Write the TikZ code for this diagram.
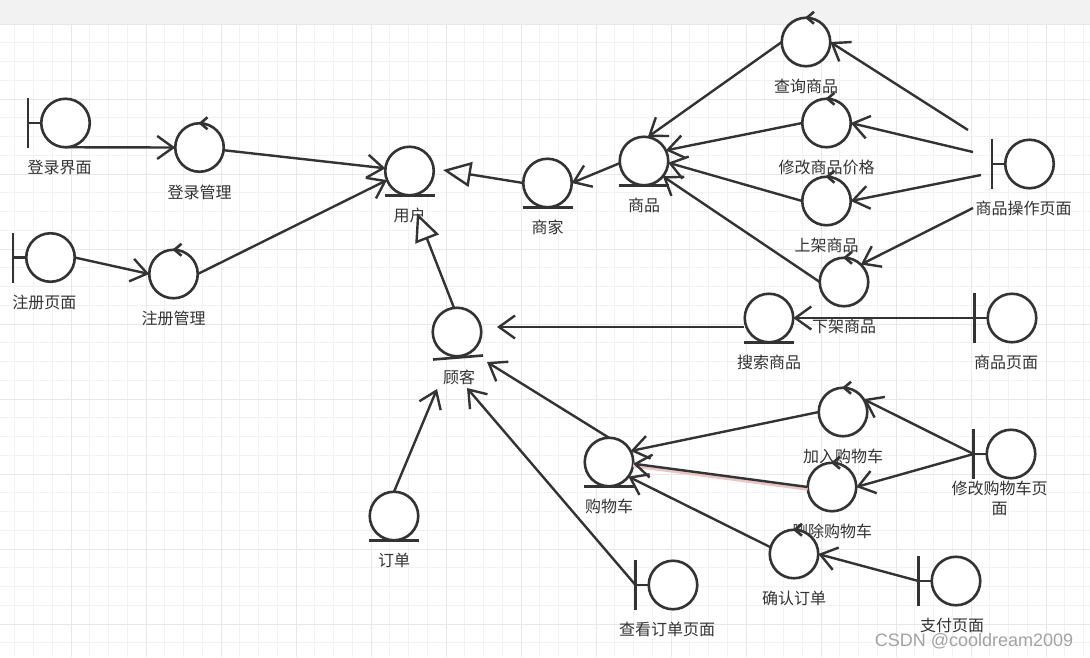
\documentclass[tikz,border=0pt]{standalone}
\usepackage{fontspec}
\setmainfont{Noto Sans CJK SC}
\newfontfamily\wmfont{Liberation Sans}
\usetikzlibrary{arrows.meta,calc}
\definecolor{ink}{HTML}{333333}
\definecolor{gridminor}{HTML}{F2F2F2}
\definecolor{gridmajor}{HTML}{E8E8E8}
\definecolor{topband}{HTML}{F2F2F2}
\definecolor{wmgray}{HTML}{A3A3A3}
\definecolor{selglow}{HTML}{E8C4C4}

\newcommand{\bndobj}[5]{% name, cx, cy, label, label dx
  \node[obj] (#1) at (#2,#3) {};
  \draw[objline] (#2-37.5,#3-25) -- (#2-37.5,#3+25);
  \draw[objline] (#2-37.5,#3) -- (#1.west);
  \coordinate (#1-bar) at (#2-37.5,#3);
  \node[lbl] (#1-l) at (#2+#5,#3+44.5) {#4};
}
\newcommand{\ctlobj}[4]{% name, cx, cy, label
  \node[obj] (#1) at (#2,#3) {};
  \draw[objline] (#2+8,#3-30.25) -- (#2+1,#3-24.25) -- (#2+8,#3-18.25);
  \node[lbl] (#1-l) at (#2,#3+44.5) {#4};
}
\newcommand{\entobj}[4]{% name, cx, cy, label
  \node[obj] (#1) at (#2,#3) {};
  \draw[objline] (#2-25,#3+24.5) -- (#2+25,#3+24.5);
  \node[lbl] (#1-l) at (#2,#3+44.5) {#4};
}

\begin{document}
\begin{tikzpicture}[x=1pt,y=-1pt,
  obj/.style={circle, draw=ink, line width=2.6pt, minimum size=48.5pt, inner sep=0pt, outer sep=0pt, fill=white},
  objline/.style={draw=ink, line width=2.6pt},
  lbl/.style={text=ink, font=\fontsize{16}{20}\selectfont, inner sep=0pt, align=center},
  conn/.style={draw=ink, line width=2.4pt, -{Straight Barb[length=16pt,width=23pt]}},
  gen/.style={draw=ink, line width=2.4pt, -{Triangle[open,length=28pt,width=25pt]}},
  gminor/.style={draw=gridminor, line width=1pt},
  gmajor/.style={draw=gridmajor, line width=1pt},
]
\useasboundingbox (0,0) rectangle (1090,657);
\fill[white] (0,0) rectangle (1090,657);
\fill[topband] (0,0) rectangle (1090,24);
% grid
\foreach \k in {1,...,58} \draw[gminor] ({-4+18.75*\k},24) -- ({-4+18.75*\k},657);
\foreach \k in {0,...,34} \draw[gminor] (0,{24+18.75*\k}) -- (1090,{24+18.75*\k});
\foreach \k in {1,...,14} \draw[gmajor] ({-4+75*\k},24) -- ({-4+75*\k},657);
\foreach \k in {0,...,8} \draw[gmajor] (0,{24+75*\k}) -- (1090,{24+75*\k});

% boundaries
\bndobj{dljm}{65.5}{123}{登录界面}{-6}
\bndobj{zcym}{50.5}{257.5}{注册页面}{-6}
\bndobj{sczy}{1029.5}{164}{商品操作页面}{-6}
\bndobj{spym}{1012}{318}{商品页面}{-6}
\bndobj{xggwc}{1011}{454}{修改购物车页\\面}{-11.5}
\bndobj{zfym}{956}{581}{支付页面}{-4}
\bndobj{ckdd}{673}{585}{查看订单页面}{-6}
% controls
\ctlobj{dlgl}{199.5}{147.5}{登录管理}
\ctlobj{zcgl}{173.5}{274}{注册管理}
\ctlobj{cxsp}{806}{42}{查询商品}
\ctlobj{xgjg}{826.5}{123}{修改商品价格}
\ctlobj{sjsp}{826.5}{201}{上架商品}
\ctlobj{xjsp}{844}{282}{下架商品}
\ctlobj{jrgwc}{843}{412}{加入购物车}
\ctlobj{scgwc}{832}{487}{删除购物车}
\ctlobj{qrdd}{794}{554}{确认订单}
% entities
\entobj{yh}{409.5}{171}{用户}
\entobj{sj}{547.5}{183}{商家}
\entobj{sp}{644}{161}{商品}
\node[obj] (gk) at (457,332) {};
\draw[objline] (433,359.5) -- (483,355.5);
\node[lbl] (gk-l) at (459,377) {顾客};
\entobj{sssp}{769}{318}{搜索商品}
\entobj{gwc}{609}{462}{购物车}
\entobj{dd}{394}{516}{订单}

% free connector ends
\coordinate (sczyA) at ([shift={(-61.5,-34)}]sczy.center);
\coordinate (sczyB) at ([shift={(-56.5,-12)}]sczy.center);
\coordinate (sczyC) at ([shift={(-48.5,11)}]sczy.center);
\coordinate (sczyD) at ([shift={(-56.5,44)}]sczy.center);
\coordinate (yhR) at ([shift={(33.5,-1)}]yh.center);
\coordinate (yhB) at ([shift={(7.5,42)}]yh.center);
\coordinate (gkA) at ([shift={(40,-5)}]gk.center);
\coordinate (gkB) at ([shift={(30,30)}]gk.center);
\coordinate (gkC) at ([shift={(-20,57)}]gk.center);
\coordinate (gkD) at ([shift={(10,56)}]gk.center);
\coordinate (ssspL) at ([shift={(-25,9)}]sssp.center);

% connectors
\draw[conn] (dljm.south) -- (dlgl.west);
\draw[conn] (dlgl) -- (yh);
\draw[conn] (zcym.east) -- (zcgl.west);
\draw[conn] (zcgl.east) -- (yh.202);
\draw[gen] (sj.west) -- (yhR);
\draw[gen] (gk.97) -- (yhB);
\draw[conn] (sp.185) -- (sj.east);
\draw[conn] (cxsp.west) -- (sp.81);
\draw[conn] (sczyA) -- (cxsp.east);
\draw[conn] (xgjg.west) -- (sp.26);
\draw[conn] (sczyB) -- (xgjg.east);
\draw[conn] (sjsp.west) -- (sp.-4);
\draw[conn] (sczyC) -- (sjsp.east);
\draw[conn] (xjsp.west) -- (sp.-39);
\draw[conn] (sczyD) -- (xjsp.46);
\draw[conn] (spym-bar) -- (sssp.east);
\draw[conn] (ssspL) -- (gkA |- ssspL);
\draw[conn] (gwc.north) -- (gkB);
\draw[conn] (dd.north) -- (gkC);
\draw[conn] (ckdd-bar) -- (gkD);
\draw[conn] (jrgwc.west) -- (gwc.27);
\draw[conn] (xggwc-bar) -- (jrgwc.32);
\draw[selglow, line width=4.5pt] ([yshift=-1.5pt]scgwc.west) -- ([yshift=-1.5pt]gwc.-4);
\draw[conn] (scgwc.west) -- (gwc.-4);
\draw[conn] (xggwc-bar) -- (scgwc.east);
\draw[conn] (qrdd.164) -- (gwc.-37);
\draw[conn] (zfym-bar) -- (qrdd.east);

% watermark
\node[text=wmgray, font=\wmfont\fontsize{18}{20}\selectfont, inner sep=0pt] (wm) at (974,641) {CSDN @cooldream2009};
\end{tikzpicture}
\end{document}
